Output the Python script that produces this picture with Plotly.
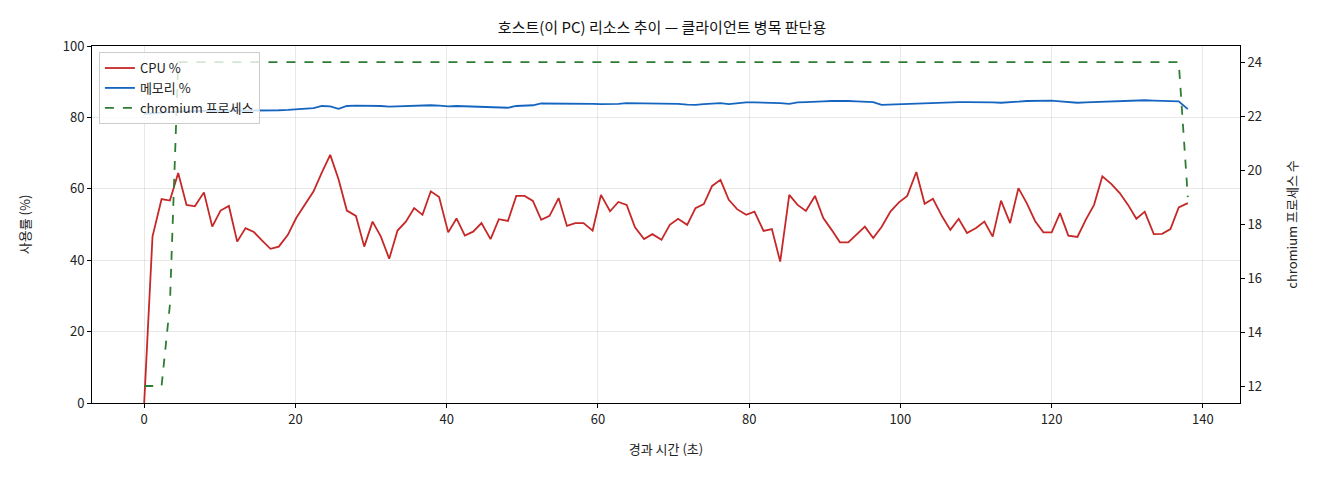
import plotly.graph_objects as go

# 경과 시간 (초)
elapsed = [0.0, 1.1, 2.3, 3.4, 4.5, 5.6, 6.7, 7.9, 9.0, 10.1, 11.2, 12.3, 13.4, 14.5, 15.6, 16.7,
           17.8, 19.0, 20.1, 21.2, 22.4, 23.5, 24.6, 25.7, 26.8, 28.0, 29.1, 30.2, 31.3, 32.4, 33.5,
           34.6, 35.7, 36.8, 37.9, 39.0, 40.2, 41.3, 42.4, 43.5, 44.6, 45.8, 46.9, 48.1, 49.2, 50.3,
           51.4, 52.5, 53.6, 54.8, 55.9, 57.0, 58.1, 59.3, 60.4, 61.6, 62.7, 63.8, 64.9, 66.1, 67.2,
           68.4, 69.5, 70.6, 71.8, 72.9, 74.0, 75.1, 76.2, 77.3, 78.4, 79.6, 80.7, 81.9, 83.0, 84.1,
           85.3, 86.4, 87.5, 88.7, 89.8, 90.9, 92.0, 93.1, 94.2, 95.3, 96.4, 97.5, 98.7, 99.8, 100.9,
           102.1, 103.2, 104.3, 105.5, 106.6, 107.7, 108.8, 110.0, 111.1, 112.2, 113.3, 114.5, 115.6,
           116.7, 117.8, 118.9, 120.0, 121.1, 122.2, 123.4, 124.5, 125.6, 126.7, 127.9, 129.0, 130.1,
           131.2, 132.3, 133.5, 134.6, 135.7, 136.8, 138.0]

cpu_pct = [0.0, 46.6, 57.1, 56.7, 64.4, 55.5, 55.1, 59.0, 49.4, 53.9, 55.2, 45.2, 49.0, 47.9, 45.5,
           43.2, 43.8, 47.1, 51.8, 55.5, 59.3, 64.6, 69.5, 62.7, 53.9, 52.4, 43.8, 50.8, 46.6, 40.4,
           48.3, 50.8, 54.6, 52.7, 59.3, 57.7, 47.8, 51.7, 46.9, 48.0, 50.4, 45.9, 51.5, 51.0, 58.0,
           58.0, 56.6, 51.3, 52.4, 57.4, 49.6, 50.4, 50.4, 48.3, 58.3, 53.7, 56.3, 55.5, 49.2, 45.9,
           47.3, 45.7, 49.9, 51.6, 49.9, 54.6, 55.7, 60.8, 62.5, 56.9, 54.3, 52.7, 53.6, 48.2, 48.7,
           39.6, 58.3, 55.5, 53.8, 58.0, 51.8, 48.5, 45.0, 45.0, 47.2, 49.4, 46.2, 49.3, 53.7, 56.2,
           58.0, 64.7, 55.8, 57.2, 52.3, 48.5, 51.6, 47.6, 49.0, 50.8, 46.6, 56.7, 50.4, 60.2, 56.0,
           51.0, 47.8, 47.8, 53.2, 46.9, 46.5, 51.3, 55.5, 63.5, 61.3, 58.8, 55.5, 51.6, 53.6, 47.3,
           47.4, 48.7, 54.8, 56.0]

mem_pct = [81.0, 81.2, 81.4, 81.5, 81.6, 81.7, 81.7, 81.8, 81.8, 81.8, 81.8, 81.8, 81.8, 81.8, 81.8,
           81.9, 82.0, 82.1, 82.3, 82.4, 82.6, 83.2, 83.1, 82.4, 83.2, 83.3, 83.3, 83.3, 83.2, 83.0,
           83.1, 83.2, 83.1, 83.3, 83.4, 83.3, 83.1, 83.2, 83.1, 83.0, 83.0, 82.8, 82.7, 82.7, 83.2,
           83.3, 83.4, 83.9, 83.9, 84.0, 84.0, 84.0, 83.9, 83.8, 83.7, 83.7, 83.8, 84.0, 84.0, 84.0,
           84.0, 84.0, 83.9, 83.8, 83.6, 83.5, 83.7, 83.9, 84.0, 83.7, 84.0, 84.2, 84.2, 84.2, 84.1,
           84.0, 83.8, 84.2, 84.3, 84.5, 84.5, 84.6, 84.7, 84.6, 84.5, 84.5, 84.3, 83.5, 83.6, 83.7,
           83.8, 84.0, 84.1, 84.2, 84.3, 84.3, 84.3, 84.3, 84.3, 84.4, 84.2, 84.1, 84.2, 84.4, 84.6,
           84.7, 84.6, 84.7, 84.5, 84.3, 84.1, 84.2, 84.3, 84.3, 84.5, 84.6, 84.8, 84.8, 84.8, 84.7,
           84.6, 84.5, 84.5, 82.3]

chromium_cnt = [12, 12, 12, 15] + [24] * 119 + [19]

font = "Noto Sans CJK KR"

fig = go.Figure()
fig.add_trace(go.Scatter(x=elapsed, y=cpu_pct, mode="lines", name="CPU %",
                         line=dict(color="#c62828", width=1.8)))
fig.add_trace(go.Scatter(x=elapsed, y=mem_pct, mode="lines", name="메모리 %",
                         line=dict(color="#1565c0", width=1.8)))
fig.add_trace(go.Scatter(x=elapsed, y=chromium_cnt, mode="lines", name="chromium 프로세스",
                         yaxis="y2", line=dict(color="#2e7d32", width=1.8, dash="dash")))

axis_style = dict(showline=True, linecolor="black", linewidth=1, ticks="outside",
                  ticklen=4, tickcolor="black", tickfont=dict(size=13, color="#222"),
                  zeroline=False)

fig.update_layout(
    width=1312, height=472,
    margin=dict(l=84, r=80, t=38, b=77),
    paper_bgcolor="white", plot_bgcolor="white",
    font=dict(family=font, color="#222"),
    title=dict(text="호스트(이 PC) 리소스 추이 — 클라이언트 병목 판단용", x=0.4985, xanchor="center",
               y=0.958, yanchor="middle", font=dict(size=15, color="#111")),
    xaxis=dict(range=[-6.9, 144.9], tickvals=[0, 20, 40, 60, 80, 100, 120, 140],
               mirror=True, showgrid=True, gridcolor="rgba(0,0,0,0.09)",
               title=dict(text="경과 시간 (초)", font=dict(size=13), standoff=18), **axis_style),
    yaxis=dict(range=[0, 100], tickvals=[0, 20, 40, 60, 80, 100], showgrid=True,
               gridcolor="rgba(0,0,0,0.09)",
               title=dict(text="사용률 (%)", font=dict(size=13), standoff=29), **axis_style),
    yaxis2=dict(range=[11.37, 24.6], tickvals=[12, 14, 16, 18, 20, 22, 24], overlaying="y",
                side="right", showgrid=False,
                title=dict(text="chromium 프로세스 수", font=dict(size=13), standoff=26), **axis_style),
    legend=dict(x=0.006, y=0.983, xanchor="left", yanchor="top",
                bgcolor="rgba(255,255,255,0.8)", bordercolor="#ccc", borderwidth=1,
                font=dict(size=13), tracegroupgap=0, itemwidth=30),
    showlegend=True,
)

fig.write_html("out.html")
